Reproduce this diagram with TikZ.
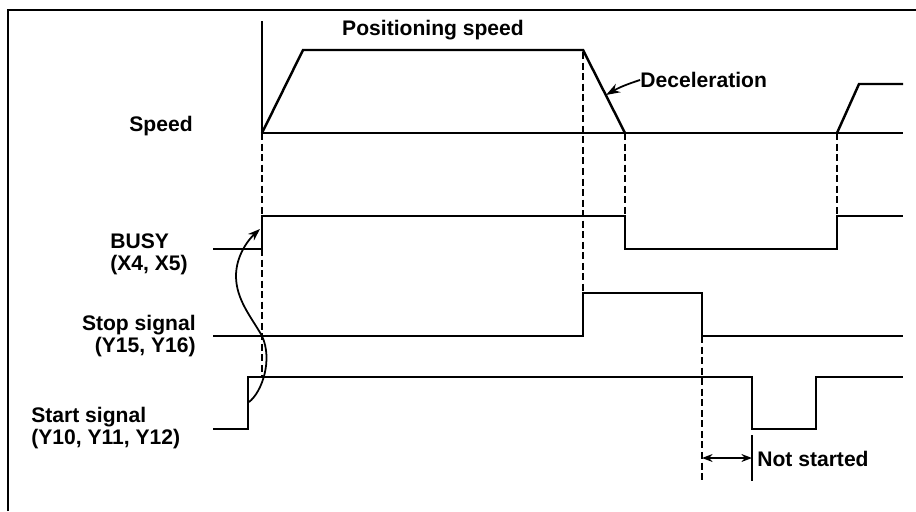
\documentclass[tikz,border=0pt]{standalone}
\usepackage{fontspec}
\setmainfont{Liberation Sans}
\usetikzlibrary{positioning, arrows.meta}

\begin{document}
\begin{tikzpicture}[x=0.02cm, y=-0.02cm,
          sig/.style={line width=1.4pt, line join=miter},
          guide/.style={line width=1.2pt, dash pattern=on 4pt off 2pt},
          lbl/.style={font=\fontsize{12}{12.5}\selectfont\bfseries, inner sep=0pt},
          arr/.style={-{Stealth[length=7pt, width=5pt]}, line width=1pt}
        ]
        \useasboundingbox (0,0) rectangle (916,511);
        % Frame (top and left only)
        \draw[line width=1.6pt] (8,511) -- (8,10) -- (916,10);

        % Labels
        \node[lbl] (spdlbl) at (161,126) {Speed};
        \node[lbl, anchor=west, align=left] (busylbl) at (110,254)
              {BUSY\\(X4, X5)};
        \node[lbl, anchor=east, align=right] (stoplbl) at (196,336)
              {Stop signal\\(Y15, Y16)};
        \node[lbl, anchor=west, align=left] (startlbl) at (31,428)
              {Start signal\\(Y10, Y11, Y12)};
        \node[lbl] (possp) at (433,30) {Positioning speed};
        \node[lbl, anchor=west] (decel) at (640,80) {Deceleration};

        % Speed
        \draw[sig] (262,21) -- (262,133) -- (903,133);
        \draw[sig] (262,133) -- (303,50) -- (583,50) -- (625,133);
        \draw[sig] (837,133) -- (859,84) -- (903,84);
        \coordinate (dectip) at (606,95);
        \draw[arr, -{Stealth[length=8pt, width=5.5pt]}]
              (decel.west) to[bend right=6] (dectip);

        % BUSY
        \draw[sig] (213,249) -- (262,249) -- (262,216) -- (625,216)
              -- (625,249) -- (837,249) -- (837,216) -- (903,216);

        % Stop signal
        \draw[sig] (213,336) -- (583,336) -- (583,293) -- (702,293)
              -- (702,336) -- (903,336);

        % Start signal
        \draw[sig] (213,429) -- (248,429) -- (248,377) -- (752,377)
              -- (752,429) -- (816,429) -- (816,377) -- (903,377);

        % Timing guides
        \draw[guide] (262,133) -- (262,377);
        \draw[guide] (583,52) -- (583,293);
        \draw[guide] (625,133) -- (625,249);
        \draw[guide] (837,133) -- (837,216);
        \draw[guide, line width=0.8pt] (702,336) -- (702,481);
        \draw[line width=0.8pt] (752,435) -- (752,481);

        % Start -> BUSY
        \coordinate (stup) at (249,402);
        \coordinate (busyup) at (260,229);
        \draw[arr] (stup) .. controls (262,392) and (273,360) .. (262,336)
              .. controls (252,318) and (236,300) .. (236,276)
              .. controls (236,256) and (248,240) .. (busyup);

        % Not started
        \coordinate (ns1) at (702,458);
        \coordinate (ns2) at (752,458);
        \draw[line width=1.1pt, {Stealth[length=6pt, width=4.5pt]}-{Stealth[length=6pt, width=4.5pt]}]
              (ns1) -- (ns2);
        \node[lbl, anchor=west] (notst) at (757,459) {Not started};
      \end{tikzpicture}
\end{document}
